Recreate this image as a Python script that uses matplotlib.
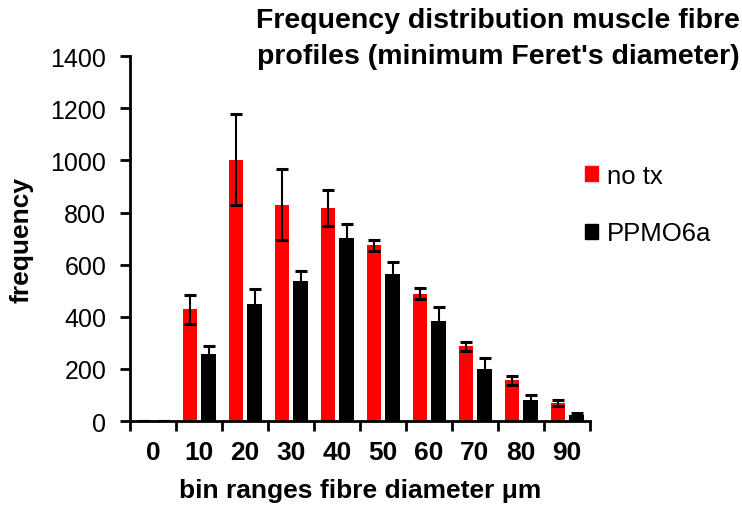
import numpy as np
import matplotlib.pyplot as plt
from matplotlib.patches import Patch

plt.rcParams['font.family'] = ['Liberation Sans', 'DejaVu Sans']

bins = ['0', '10', '20', '30', '40', '50', '60', '70', '80', '90']
no_tx = [0, 428, 1003, 830, 818, 674, 489, 286, 156, 70]
no_tx_err = [0, 57, 175, 136, 70, 21, 20, 16, 16, 11]
ppmo = [0, 259, 450, 539, 704, 563, 385, 201, 80, 23]
ppmo_err = [0, 28, 57, 37, 52, 46, 51, 39, 21, 7]

fig = plt.figure(figsize=(7.42, 5.1), dpi=100)
ax = fig.add_axes([0.175, 0.1725, 0.62, 0.7155])

x = np.arange(len(bins))
w = 0.31
ax.bar(x - 0.19, no_tx, w, color='#ff0000')
ax.bar(x + 0.21, ppmo, w, color='black')
ax.errorbar(x - 0.19, no_tx, yerr=no_tx_err, fmt='none', ecolor='black',
            elinewidth=1.5, capsize=4.3, capthick=2.2)
ax.errorbar(x + 0.21, ppmo, yerr=ppmo_err, fmt='none', ecolor='black',
            elinewidth=1.5, capsize=4.3, capthick=2.2)

ax.set_xlim(-0.5, 9.5)
ax.set_ylim(0, 1400)
ax.set_yticks(range(0, 1401, 200))
ax.tick_params(axis='y', labelsize=18, direction='out', length=7, width=2, pad=10)

ax.set_xticks(x)
ax.set_xticklabels(bins, fontweight='bold', fontsize=19)
ax.tick_params(axis='x', which='major', length=0, pad=14)
ax.set_xticks(np.arange(-0.5, 10, 1), minor=True)
ax.tick_params(axis='x', which='minor', direction='out', length=7, width=2)

for s in ['top', 'right']:
    ax.spines[s].set_visible(False)
for s in ['left', 'bottom']:
    ax.spines[s].set_linewidth(2)

ax.set_ylabel('frequency', fontweight='bold', fontsize=19, labelpad=12)
ax.set_xlabel('bin ranges fibre diameter \u03bcm', fontweight='bold', fontsize=19, labelpad=10)

fig.text(0.997, 0.985, "Frequency distribution muscle fibre\nprofiles (minimum Feret's diameter)",
         ha='right', va='top', multialignment='right', fontweight='bold', fontsize=20.5,
         linespacing=1.5)

handles = [Patch(color='#ff0000', label='no tx'), Patch(color='black', label='PPMO6a')]
fig.legend(handles=handles, loc='upper left', bbox_to_anchor=(0.757, 0.722), frameon=False,
           fontsize=18.5, handlelength=0.5, handleheight=0.5, handletextpad=0.35,
           labelspacing=1.3)

fig.savefig('out.png', dpi=100)
